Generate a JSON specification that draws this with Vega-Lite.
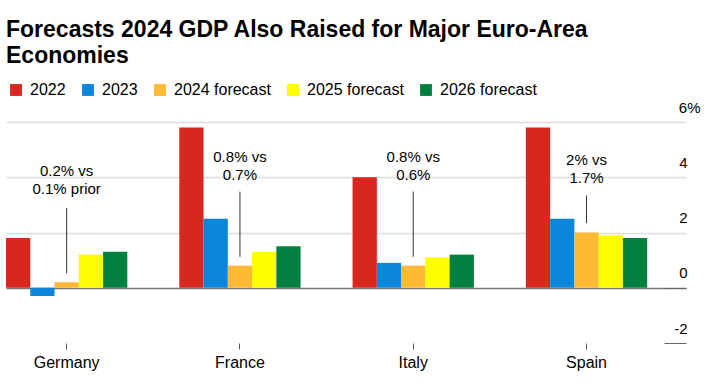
{
  "$schema": "https://vega.github.io/schema/vega-lite/v6.json",
  "autosize": "none",
  "width": 680,
  "height": 221,
  "padding": {"left": 6, "top": 122, "right": 32, "bottom": 42},
  "background": "white",
  "config": {
    "view": {"stroke": null},
    "font": "Liberation Sans",
    "text": {"font": "Liberation Sans"}
  },
  "title": {
    "text": ["Forecasts 2024 GDP Also Raised for Major Euro-Area", "Economies"],
    "anchor": "start",
    "frame": "group",
    "font": "Liberation Sans",
    "fontSize": 23,
    "fontWeight": "bold",
    "color": "#000000",
    "lineHeight": 26,
    "offset": 14
  },
  "datasets": {
    "gdp": [
      {"country": "Germany", "series": "2022", "value": 1.8},
      {"country": "Germany", "series": "2023", "value": -0.3},
      {"country": "Germany", "series": "2024 forecast", "value": 0.2},
      {"country": "Germany", "series": "2025 forecast", "value": 1.2},
      {"country": "Germany", "series": "2026 forecast", "value": 1.3},
      {"country": "France", "series": "2022", "value": 5.8},
      {"country": "France", "series": "2023", "value": 2.5},
      {"country": "France", "series": "2024 forecast", "value": 0.8},
      {"country": "France", "series": "2025 forecast", "value": 1.3},
      {"country": "France", "series": "2026 forecast", "value": 1.5},
      {"country": "Italy", "series": "2022", "value": 4.0},
      {"country": "Italy", "series": "2023", "value": 0.9},
      {"country": "Italy", "series": "2024 forecast", "value": 0.8},
      {"country": "Italy", "series": "2025 forecast", "value": 1.1},
      {"country": "Italy", "series": "2026 forecast", "value": 1.2},
      {"country": "Spain", "series": "2022", "value": 5.8},
      {"country": "Spain", "series": "2023", "value": 2.5},
      {"country": "Spain", "series": "2024 forecast", "value": 2.0},
      {"country": "Spain", "series": "2025 forecast", "value": 1.9},
      {"country": "Spain", "series": "2026 forecast", "value": 1.8}
    ],
    "notes": [
      {"country": "Germany", "label": ["0.2% vs", "0.1% prior"], "ty": 4.03, "top": 2.88, "bottom": 0.52},
      {"country": "France", "label": ["0.8% vs", "0.7%"], "ty": 4.57, "top": 3.48, "bottom": 1.12},
      {"country": "Italy", "label": ["0.8% vs", "0.6%"], "ty": 4.57, "top": 3.48, "bottom": 1.12},
      {"country": "Spain", "label": ["2% vs", "1.7%"], "ty": 4.45, "top": 3.34, "bottom": 2.34}
    ]
  },
  "encoding": {
    "x": {
      "field": "country",
      "type": "nominal",
      "sort": ["Germany", "France", "Italy", "Spain"],
      "scale": {"paddingInner": 0.3, "paddingOuter": 0.112, "align": 0},
      "axis": {
        "title": null,
        "orient": "bottom",
        "domain": false,
        "grid": false,
        "labelAngle": 0,
        "tickSize": 6,
        "tickColor": "#555555",
        "labelPadding": 5,
        "labelFontSize": 16,
        "labelColor": "#000000",
        "labelFont": "Liberation Sans"
      }
    }
  },
  "layer": [
    {
      "data": {"name": "gdp"},
      "mark": {"type": "bar"},
      "encoding": {
        "xOffset": {
          "field": "series",
          "type": "nominal",
          "scale": {"domain": ["2022", "2023", "2024 forecast", "2025 forecast", "2026 forecast"], "paddingInner": 0, "paddingOuter": 0}
        },
        "y": {
          "field": "value",
          "type": "quantitative",
          "scale": {"domain": [-2, 6], "nice": false, "zero": false},
          "axis": {
            "title": null,
            "orient": "right",
            "values": [-2, 0, 2, 4, 6],
            "domain": false,
            "offset": -22,
            "tickSize": 22,
            "tickColor": {"condition": {"test": "datum.value <= 0", "value": "#666666"}, "value": "#dddddd"},
            "grid": true,
            "gridColor": {"condition": {"test": "datum.value == 0", "value": "#777777"}, "value": "#dddddd"},
            "gridOpacity": {"condition": {"test": "datum.value == -2", "value": 0}, "value": 1},
            "gridWidth": 1.5,
            "labelAlign": "right",
            "labelBaseline": "alphabetic",
            "labelOffset": -10,
            "labelPadding": {"condition": {"test": "datum.value == 6", "value": 14}, "value": 1},
            "labelExpr": "datum.value == 6 ? '6%' : toString(datum.value)",
            "labelFontSize": 15,
            "labelColor": "#000000",
            "labelFont": "Liberation Sans"
          }
        },
        "color": {
          "field": "series",
          "type": "nominal",
          "scale": {
            "domain": ["2022", "2023", "2024 forecast", "2025 forecast", "2026 forecast"],
            "range": ["#d9261f", "#0a86db", "#fdb933", "#ffff00", "#01803f"]
          },
          "legend": {
            "title": null,
            "orient": "none",
            "direction": "horizontal",
            "legendX": 2,
            "legendY": -40,
            "symbolType": "square",
            "symbolSize": 140,
            "symbolStrokeWidth": 0,
            "symbolOpacity": 1,
            "labelFontSize": 16,
            "labelFont": "Liberation Sans",
            "labelColor": "#000000",
            "labelOffset": 6,
            "columnPadding": 14
          }
        }
      }
    },
    {
      "data": {"name": "notes"},
      "mark": {"type": "rule", "color": "#333333", "strokeWidth": 1},
      "encoding": {
        "y": {"field": "top", "type": "quantitative"},
        "y2": {"field": "bottom"}
      }
    },
    {
      "data": {"name": "notes"},
      "mark": {"type": "text", "baseline": "alphabetic", "align": "center", "fontSize": 15, "lineHeight": 18, "color": "#000000", "font": "Liberation Sans"},
      "encoding": {
        "y": {"field": "ty", "type": "quantitative"},
        "text": {"field": "label"}
      }
    }
  ]
}
